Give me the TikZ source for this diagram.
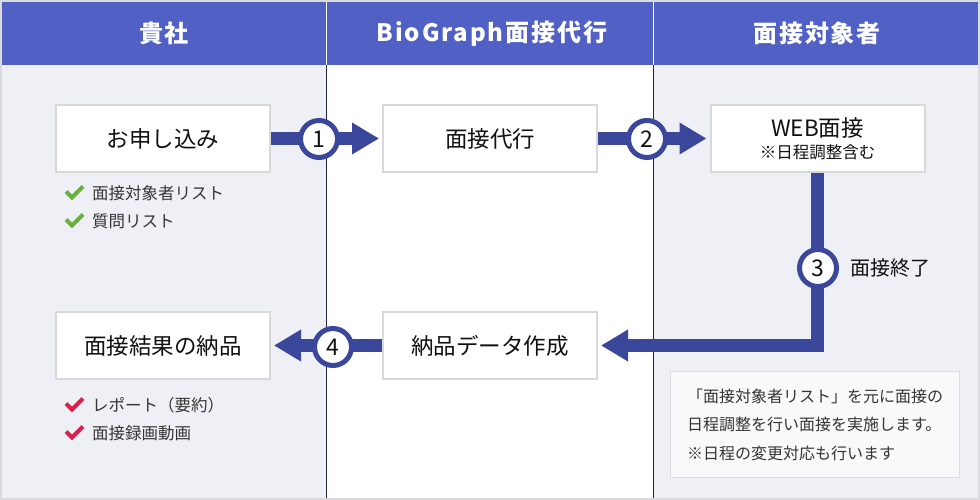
\documentclass[tikz,border=0pt]{standalone}
\usepackage{fontspec}
\setmainfont{Noto Sans CJK JP}
\usetikzlibrary{arrows.meta}
\definecolor{hdr}{HTML}{5060C5}
\definecolor{navy}{HTML}{3B479B}
\definecolor{bggray}{HTML}{EFF0F5}
\definecolor{framegray}{HTML}{D8DADE}
\definecolor{boxgray}{HTML}{D8D8D8}
\definecolor{notefill}{HTML}{F8F9FB}
\definecolor{noteline}{HTML}{DCDEE2}
\definecolor{divline}{HTML}{1E2340}
\definecolor{okgreen}{HTML}{6AB23E}
\definecolor{okred}{HTML}{D9204F}
\definecolor{txt}{HTML}{111111}
\tikzset{
  hdrtext/.style={text=white,font=\fontsize{24}{28}\selectfont\bfseries\addfontfeatures{LetterSpace=8}},
  mainbox/.style={draw=boxgray,line width=2pt,fill=white,minimum width=214pt,minimum height=67pt,inner sep=0pt,text=txt,font=\fontsize{22.5}{27}\selectfont,align=center},
  flow/.style={draw=navy,line width=13pt,line join=miter,-{Triangle[length=27pt,width=30pt]},shorten >=3pt},
  numc/.style={circle,draw=navy,line width=5pt,fill=white,minimum size=37pt,inner sep=0pt,text=txt,font=\fontsize{23}{24}\selectfont},
  subtext/.style={anchor=west,inner sep=0pt,text=txt!85,font=\fontsize{16.5}{18}\selectfont},
  chkmark/.style={line width=4pt,line cap=butt,line join=miter},
  notebox/.style={draw=noteline,line width=1pt,fill=notefill,minimum width=289pt,minimum height=106pt,align=left,text=txt!85,font=\fontsize{16}{28.5}\selectfont}
}
\begin{document}
\begin{tikzpicture}[x=1pt,y=-1pt]
\useasboundingbox (0,0) rectangle (980,500);
% backgrounds
\fill[framegray] (0,0) rectangle (980,500);
\fill[bggray] (2,65) rectangle (326,498);
\fill[white] (326,65) rectangle (653,498);
\fill[bggray] (653,65) rectangle (978,498);
\fill[hdr] (2,2) rectangle (978,65);
\draw[white,line width=0.8pt] (326,2) -- (326,65) (653,2) -- (653,65);
\draw[divline,line width=1pt] (326,65) -- (326,498) (653,65) -- (653,498);
% headers
\node[hdrtext] (h1) at (164,33.5) {貴社};
\node[hdrtext] (h2) at (492,33.5) {BioGraph面接代行};
\node[hdrtext] (h3) at (817,33.5) {面接対象者};
% boxes
\node[mainbox] (a1) at (163,138.5) {お申し込み};
\node[mainbox] (b1) at (490,138.5) {面接代行};
\node[mainbox] (c1) at (817.5,138.5) {WEB面接\\[-5pt]{\fontsize{16.5}{18}\selectfont ※日程調整含む}};
\node[mainbox] (a2) at (163,345.5) {面接結果の納品};
\node[mainbox] (b2) at (490,345.5) {納品データ作成};
% flows
\draw[flow] (a1.east) -- (b1.west);
\draw[flow] (b1.east) -- (c1.west);
\draw[flow] (c1.south) |- (b2.east);
\draw[flow] (b2.west) -- (a2.east);
\node[numc] (n1) at (319,139) {1};
\node[numc] (n2) at (647,139) {2};
\node[numc] (n3) at (818,268) {3};
\node[numc] (n4) at (333,347) {4};
\node[anchor=west,inner sep=0pt,text=txt,font=\fontsize{20}{22}\selectfont] (l3) at (850,268) {面接終了};
% check lists
\draw[chkmark,okgreen] (66,191.5) -- (72,197.5) -- (83,186.5);
\draw[chkmark,okgreen] (66,219.5) -- (72,225.5) -- (83,214.5);
\node[subtext] (s1) at (92,193.5) {面接対象者リスト};
\node[subtext] (s2) at (92,221.5) {質問リスト};
\draw[chkmark,okred] (66,403.5) -- (72,409.5) -- (83,398.5);
\draw[chkmark,okred] (66,431.5) -- (72,437.5) -- (83,426.5);
\node[subtext] (s3) at (92,405.5) {レポート（要約）};
\node[subtext] (s4) at (92,433.5) {面接録画動画};
% note
\node[notebox] (nb) at (815,424.5) {「面接対象者リスト」を元に面接の\\日程調整を行い面接を実施します。\\※日程の変更対応も行います};
\end{tikzpicture}
\end{document}
